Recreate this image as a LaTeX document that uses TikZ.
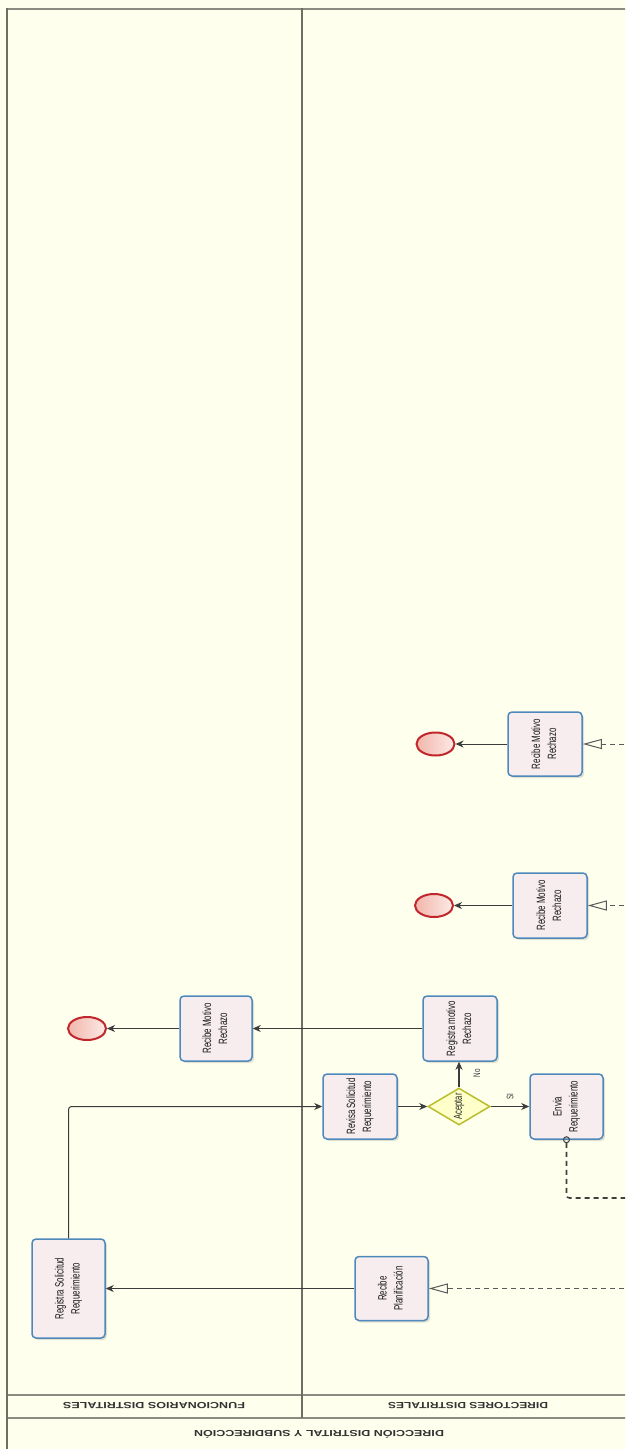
\documentclass[tikz,border=0pt]{standalone}
\usepackage{fontspec}
\setmainfont{Liberation Sans}
\newfontfamily\taskfont{Liberation Sans}[FakeStretch=0.66]
\usetikzlibrary{shapes.geometric,arrows.meta,shadows}

\definecolor{poolbg}{HTML}{FFFFEE}
\definecolor{laneline}{HTML}{6E6E62}
\definecolor{taskblue}{HTML}{4F88BB}
\definecolor{taskfill}{HTML}{F7EDEF}
\definecolor{endred}{HTML}{C0262B}
\definecolor{endfillA}{HTML}{F2B6AB}
\definecolor{endfillB}{HTML}{FCEAE6}
\definecolor{gwline}{HTML}{B9BD2E}
\definecolor{gwfill}{HTML}{FFFFC9}
\definecolor{flowgray}{HTML}{3C3C3C}
\definecolor{msggray}{HTML}{5A5A5A}

% two-line task caption, turned to read upwards
\newcommand{\tasktext}[2]{\rotatebox{90}{\begin{tabular}{@{}c@{}}#1\\#2\end{tabular}}}

\begin{document}
\begin{tikzpicture}[x=1pt,y=-1pt,
  boxsize/.style 2 args={minimum width=#1pt, minimum height=#2pt},
  task/.style={rectangle, rounded corners=4pt, draw=taskblue, line width=1.5pt,
    fill=taskfill, inner sep=0pt, text=black!90,
    font=\taskfont\fontsize{12}{16}\selectfont,
    drop shadow={shadow xshift=2pt, shadow yshift=-2pt, opacity=0.12, fill=black}},
  endev/.style={ellipse, draw=endred, line width=2pt, inner sep=0pt,
    left color=endfillA, right color=endfillB,
    minimum width=38pt, minimum height=23pt},
  gateway/.style={diamond, draw=gwline, line width=1.5pt, fill=gwfill, inner sep=0pt,
    minimum width=62pt, minimum height=37pt},
  gwtext/.style={inner sep=0pt, text=black!85, font=\taskfont\fontsize{11.5}{13}\selectfont},
  flowlbl/.style={inner sep=0pt, text=black!80, font=\taskfont\fontsize{9.5}{11}\selectfont},
  flow/.style={draw=flowgray, line width=1pt, -{Stealth[length=8pt,width=7pt,inset=2.5pt]}},
  flowv/.style={flow, line width=1.6pt},
  msg/.style={draw=msggray, line width=1pt, dash pattern=on 5pt off 4pt,
    -{Triangle[open,length=19pt,width=10pt,line width=1pt]}},
  msgout/.style={draw=msggray!70!black, line width=1.6pt, dash pattern=on 5pt off 4pt,
    {Circle[open,length=7pt,width=7pt,line width=1pt]}-, rounded corners=3pt},
  lanev/.style={draw=laneline, line width=2pt},
  laneh/.style={draw=laneline!80, line width=1.2pt},
  headtext/.style={inner sep=0pt, text=black!80}
]
\useasboundingbox (0,0) rectangle (625,1449);
\clip (0,0) rectangle (625,1449);
\fill[poolbg] (0,0) rectangle (625,1449);

% pool and lane borders
\draw[laneh] (6,9) -- (640,9);
\draw[laneh] (6,1395) -- (640,1395);
\draw[laneh] (6,1418) -- (640,1418);
\draw[lanev] (6.5,8) -- (6.5,1460);
\draw[lanev] (302,8) -- (302,1418);

% lane and pool headings
\node[headtext] (hfun) at (154,1406) {\rotatebox{180}{\resizebox{182pt}{6.2pt}{\bfseries FUNCIONARIOS DISTRITALES}}};
\node[headtext] (hdir) at (468,1406) {\rotatebox{180}{\resizebox{160pt}{6.2pt}{\bfseries DIRECTORES DISTRITALES}}};
\node[headtext] (hpool) at (319,1434) {\rotatebox{180}{\resizebox{250pt}{7.8pt}{\bfseries DIRECCIÓN DISTRITAL Y SUBDIRECCIÓN}}};

% tasks
\node[task, boxsize={72}{65}] (rm1) at (216,1028.5) {\tasktext{Recibe Motivo}{Rechazo}};
\node[task, boxsize={73}{99}] (rs)  at (68.5,1288.5) {\tasktext{Registra Solicitud}{Requerimiento}};
\node[task, boxsize={74}{65}] (rv)  at (360,1106.5) {\tasktext{Revisa Solicitud}{Requerimiento}};
\node[task, boxsize={74}{65}] (rmr) at (460,1028.5) {\tasktext{Registra motivo}{Rechazo}};
\node[task, boxsize={73}{65}] (env) at (566.5,1106.5) {\tasktext{Envia}{Requerimiento}};
\node[task, boxsize={73}{64}] (rp)  at (391.5,1288.5) {\tasktext{Recibe}{Planificación}};
\node[task, boxsize={74}{64}] (rmA) at (545,744) {\tasktext{Recibe Motivo}{Rechazo}};
\node[task, boxsize={74}{65}] (rmB) at (550,905.5) {\tasktext{Recibe Motivo}{Rechazo}};

% end events
\node[endev] (ev1) at (87,1028.5) {};
\node[endev] (ev2) at (435.5,744) {};
\node[endev] (ev3) at (434,905.5) {};

% gateway
\node[gateway] (gw) at (459,1106.5) {};
\node[gwtext] (gwl) at (gw.center) {\rotatebox{90}{Aceptar}};

% sequence flows
\draw[flow, rounded corners=3pt] (rs.north) |- (rv.west);
\draw[flow] (rv.east) -- (gw.west);
\draw[flowv] (gw.north) -- (gw.north |- rmr.south);
\node[flowlbl] (lno) at (477,1073) {\rotatebox{90}{No}};
\draw[flow] (gw.east) -- (env.west);
\node[flowlbl] (lsi) at (510,1097) {\rotatebox{90}{SI}};
\draw[flow] (rmr.west) -- (rm1.east);
\draw[flow] (rm1.west) -- (ev1.east);
\draw[flow] (rp.west) -- (rs.east);
\draw[flow] (rmA.west) -- (ev2.east);
\draw[flow] (rmB.west) -- (ev3.east);

% message flows crossing to the lanes on the right
\coordinate (srcA) at (660,744);
\coordinate (srcB) at (660,905.5);
\coordinate (srcP) at (660,1288.5);
\coordinate (dstE) at (660,1198);
\draw[msg] (srcA) -- (rmA.east);
\draw[msg] (srcB) -- (rmB.east);
\draw[msg] (srcP) -- (rp.east);
\draw[msgout, shorten <=-3.5pt] (env.south) |- (dstE);
\end{tikzpicture}
\end{document}
